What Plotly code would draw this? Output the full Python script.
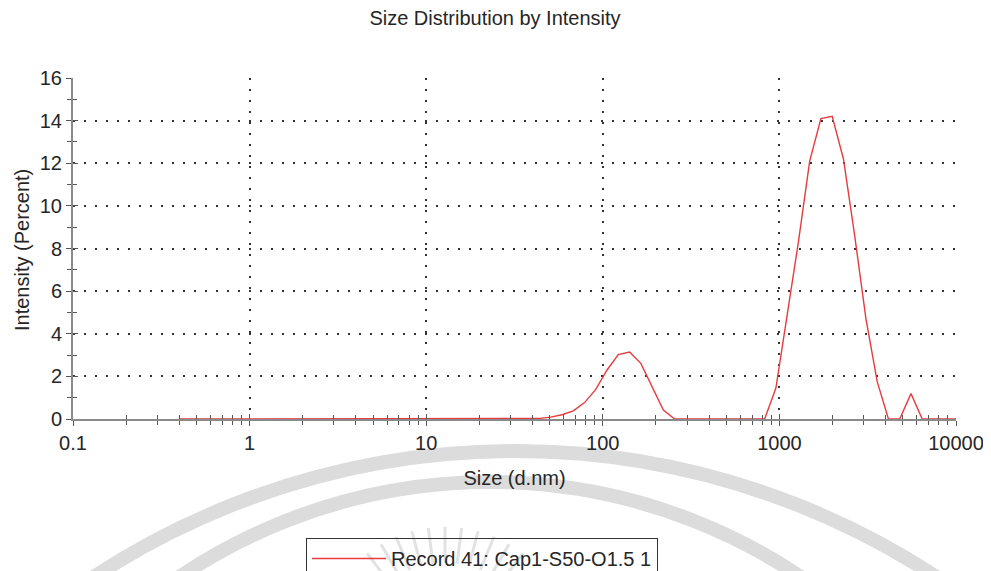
import math
import plotly.graph_objects as go

# ---- data ----
size_nm = [0.4, 0.4632, 0.5365, 0.6213, 0.7195, 0.8332, 0.9649, 1.117, 1.294, 1.499,
           1.736, 2.010, 2.328, 2.696, 3.122, 3.615, 4.187, 4.849, 5.615, 6.503,
           7.531, 8.721, 10.10, 11.70, 13.54, 15.69, 18.17, 21.04, 24.36, 28.21,
           32.67, 37.84, 43.82, 50.75, 58.77, 68.06, 78.82, 91.28, 105.7, 122.4,
           141.8, 164.2, 190.1, 220.2, 255.0, 295.3, 342.0, 396.1, 458.7, 531.2,
           615.1, 712.4, 825.0, 955.4, 1106, 1281, 1484, 1718, 1990, 2305,
           2669, 3091, 3580, 4145, 4801, 5560, 6439, 7456, 8635, 10000]
intensity_pct = [0, 0, 0, 0, 0, 0, 0, 0, 0, 0,
                 0, 0, 0, 0, 0, 0, 0, 0, 0, 0,
                 0, 0, 0, 0, 0, 0, 0, 0, 0, 0,
                 0, 0, 0.03, 0.09, 0.2, 0.38, 0.77, 1.39, 2.3, 3.02,
                 3.14, 2.61, 1.55, 0.42, 0, 0, 0, 0, 0, 0,
                 0, 0, 0, 1.45, 4.8, 8.3, 12.1, 14.1, 14.2, 12.2,
                 8.6, 4.7, 1.75, 0, 0, 1.19, 0, 0, 0, 0]
x_tickvals = [0.1, 1, 10, 100, 1000, 10000]
x_ticktext = ["0.1", "1", "10", "100", "1000", "10000"]
y_tickvals = [0, 2, 4, 6, 8, 10, 12, 14, 16]
series_name = "Record 41: Cap1-S50-O1.5 1"
chart_title = "Size Distribution by Intensity"
x_title = "Size (d.nm)"
y_title = "Intensity (Percent)"

# the page places the figure 8px in from the top-left corner
OFF = 8
W, H = 991 - OFF, 571 - OFF
ML, MT = 73 - OFF, 78 - OFF
PW, PH = 883, 341
MR, MB = W - ML - PW, H - MT - PH
FONT = "Liberation Sans, Arial, sans-serif"
TXT = "#262626"


def px2paper(X, Y):
    """screen pixel (as in the reference) -> paper coordinates"""
    return (X - OFF - ML) / PW, (MT + PH - (Y - OFF)) / PH


fig = go.Figure()
fig.add_trace(go.Scatter(x=size_nm, y=intensity_pct, mode="lines", name=series_name,
                         line=dict(color="#e63b3f", width=1.4)))
# empty trace hosting the overlay axes that give the crossing tick marks
fig.add_trace(go.Scatter(x=[], y=[], xaxis="x2", yaxis="y2", showlegend=False,
                         hoverinfo="skip"))

# ---- watermark (light grey seal in background) ----
shapes = []
for cx, cy, r in [(515, 1218, 767), (490, 1037, 555)]:
    x0, y1 = px2paper(cx - r, cy - r)
    x1, y0 = px2paper(cx + r, cy + r)
    shapes.append(dict(type="circle", xref="paper", yref="paper", x0=x0, x1=x1,
                       y0=y0, y1=y1, line=dict(color="#dcdcdc", width=14),
                       layer="below"))
rcx, rcy = 445, 655
for k in range(-5, 6):
    a = math.radians(k * 7.5)
    xa, ya = px2paper(rcx + 92 * math.sin(a), rcy - 92 * math.cos(a))
    xb, yb = px2paper(rcx + 128 * math.sin(a), rcy - 128 * math.cos(a))
    shapes.append(dict(type="line", xref="paper", yref="paper", x0=xa, y0=ya,
                       x1=xb, y1=yb, line=dict(color="#e2e2e2", width=3),
                       layer="below"))

grid_common = dict(showgrid=True, gridcolor="#333333", gridwidth=2,
                   griddash="2px,9px", zeroline=False)

ytx, yty = px2paper(22, 250)

fig.update_layout(
    width=W, height=H,
    margin=dict(l=ML, r=MR, t=MT, b=MB, autoexpand=False),
    paper_bgcolor="white", plot_bgcolor="rgba(0,0,0,0)",
    font=dict(family=FONT, size=20, color=TXT),
    title=dict(text=chart_title, x=(495 - OFF) / W, xref="container", xanchor="center",
               y=1 - (18 - OFF) / H, yref="container", yanchor="middle",
               font=dict(family=FONT, size=20, color=TXT)),
    xaxis=dict(type="log", range=[-1, 4], tickvals=x_tickvals, ticktext=x_ticktext,
               showline=True, linecolor="#8a8a8a", linewidth=2,
               ticks="outside", ticklen=5, tickcolor="#555555", tickwidth=1,
               minor=dict(ticks="outside", ticklen=4, dtick="D1", tickcolor="#555555",
                          showgrid=False),
               title=dict(text=x_title, standoff=18, font=dict(size=20, color=TXT)),
               tickfont=dict(size=20, color=TXT), **grid_common),
    yaxis=dict(range=[0, 16], tickvals=y_tickvals,
               showline=True, linecolor="#8a8a8a", linewidth=2,
               ticks="outside", ticklen=5, tickcolor="#555555", tickwidth=1,
               minor=dict(ticks="outside", ticklen=4, dtick=1, tickcolor="#555555",
                          showgrid=False),
               tickfont=dict(size=20, color=TXT), **grid_common),
    xaxis2=dict(type="log", range=[-1, 4], overlaying="x", anchor="y2", side="bottom",
                tickvals=x_tickvals, showticklabels=False, showgrid=False,
                zeroline=False, showline=False, ticks="inside", ticklen=5,
                tickcolor="#555555",
                minor=dict(ticks="inside", ticklen=4, dtick="D1", tickcolor="#555555",
                           showgrid=False)),
    yaxis2=dict(range=[0, 16], overlaying="y", anchor="x2", side="left",
                tickvals=y_tickvals, showticklabels=False, showgrid=False,
                zeroline=False, showline=False, ticks="inside", ticklen=5,
                tickcolor="#555555",
                minor=dict(ticks="inside", ticklen=4, dtick=1, tickcolor="#555555",
                           showgrid=False)),
    annotations=[dict(text=y_title, xref="paper", yref="paper", x=ytx, y=yty,
                      xanchor="center", yanchor="middle", textangle=-90,
                      showarrow=False, font=dict(family=FONT, size=20, color=TXT))],
    legend=dict(x=(306 - OFF) / W, xref="container", xanchor="left",
                y=1 - (538 - OFF) / H, yref="container", yanchor="top",
                bgcolor="rgba(0,0,0,0)", bordercolor="#333333", borderwidth=1,
                font=dict(family=FONT, size=20, color=TXT), itemwidth=74),
    showlegend=True,
    shapes=shapes,
)

fig.write_html("out.html")
